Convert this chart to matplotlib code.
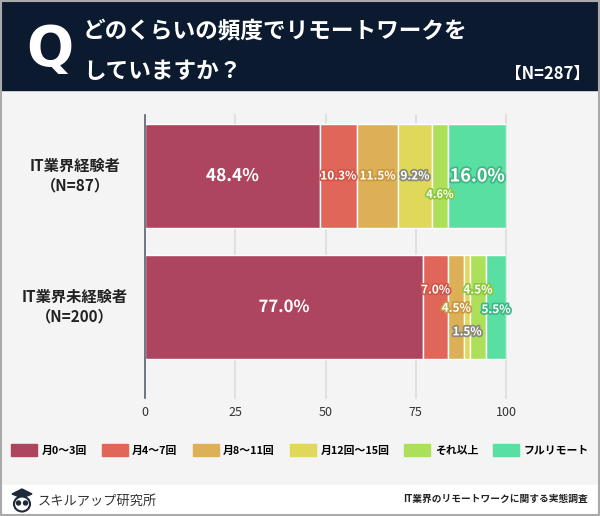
import matplotlib.pyplot as plt
import matplotlib.patheffects as pe
from matplotlib.patches import Rectangle, Polygon, Ellipse

plt.rcParams['font.family'] = ['Noto Sans CJK JP', 'DejaVu Sans']

# data
groups = ['IT業界経験者\n（N=87）', 'IT業界未経験者\n（N=200）']
series = ['月0～3回', '月4～7回', '月8～11回', '月12回～15回', 'それ以上', 'フルリモート']
values = [
    [48.4, 10.3, 11.5, 9.2, 4.6, 16.0],
    [77.0, 7.0, 4.5, 1.5, 4.5, 5.5],
]
colors = ['#AD455E', '#E0665A', '#DDB058', '#DFD85A', '#ACDF5A', '#5ADFA3']
edge_cols = ['#AD455E', '#D0564A', '#C9983F', '#8A8A7A', '#8CC83E', '#3EB883']
xticks = [0, 25, 50, 75, 100]

# label tweaks (vertical offset in bar units, font size)
lab_dy = [[0, 0, 0, 0, 0.14, 0], [0, -0.13, 0.01, 0.19, -0.13, 0.02]]
lab_fs = [[12.5, 8.5, 8.5, 8.5, 8, 13], [12, 8.5, 8.5, 8.5, 8.5, 8.5]]

fig = plt.figure(figsize=(6, 5.16), dpi=100)
fig.patch.set_facecolor('#F4F4F4')

# header / footer bands
fig.add_artist(Rectangle((0, 1 - 90 / 516), 1, 90 / 516, transform=fig.transFigure,
                         color='#0B1A2E', zorder=0))
fig.add_artist(Rectangle((0, 0), 1, 31 / 516, transform=fig.transFigure,
                         color='white', zorder=0))
fig.add_artist(Rectangle((0.0015, 0.002), 0.997, 0.996, transform=fig.transFigure,
                         fill=False, edgecolor='#AAAAAA', lw=1.5, zorder=5))

fig.text(50 / 600, 1 - 50 / 516, 'Q', color='white', fontsize=40, fontweight='bold',
         ha='center', va='center', family='DejaVu Sans')
fig.text(83 / 600, 1 - 32 / 516, 'どのくらいの頻度でリモートワークを', color='white',
         fontsize=16.3, fontweight='bold', ha='left', va='center')
fig.text(83 / 600, 1 - 72 / 516, 'していますか？', color='white',
         fontsize=16.3, fontweight='bold', ha='left', va='center')
fig.text(590 / 600, 1 - 74 / 516, '【N=287】', color='white',
         fontsize=12, fontweight='bold', ha='right', va='center')

ax = fig.add_axes([145 / 600, 1 - 395 / 516, 361 / 600, 280 / 516])
ax.set_facecolor('#F4F4F4')

for gi, vals in enumerate(values):
    left = 0
    for si, v in enumerate(vals):
        ax.barh(gi, v, left=left, height=0.794, color=colors[si],
                edgecolor='white', linewidth=1, zorder=3)
        txt = ax.text(left + v / 2, gi + lab_dy[gi][si], f'{v:.1f}%', color='white',
                      fontsize=lab_fs[gi][si], fontweight='bold',
                      ha='center', va='center', zorder=4)
        txt.set_path_effects([pe.withStroke(linewidth=2.5, foreground=edge_cols[si])])
        left += v

ax.set_xlim(0, 100)
ax.set_ylim(1.672, -0.466)
ax.set_yticks([])
ax.set_xticks(xticks)
ax.tick_params(axis='x', length=0, pad=8, labelsize=9, labelcolor='#333333')
for t in xticks[1:]:
    ax.axvline(t, color='#DDDDDD', lw=1.2, zorder=1, clip_on=False, ymin=-0.012)
ax.axvline(0, color='#556070', lw=1.2, zorder=5, clip_on=False, ymin=-0.012)
for s in ax.spines.values():
    s.set_visible(False)

for gi, g in enumerate(groups):
    y_px = 176 + gi * 131
    fig.text(75 / 600, 1 - y_px / 516, g, ha='center', va='center', fontsize=11,
             fontweight='bold', color='#222222', linespacing=1.3)

# legend
handles = [Rectangle((0, 0), 1, 1, color=c) for c in colors]
fig.legend(handles, series, loc='center', bbox_to_anchor=(0.5, 1 - 450 / 516), ncol=6,
           frameon=False, prop={'size': 7.8, 'weight': 'bold'}, handlelength=2.4,
           handleheight=1.3, handletextpad=0.4, columnspacing=1.4)

# footer logo (simple owl shape) and texts
fig.add_artist(Polygon([(12 / 600, 1 - 494 / 516), (22 / 600, 1 - 489 / 516),
                        (32 / 600, 1 - 494 / 516), (22 / 600, 1 - 498 / 516)],
                       closed=True, transform=fig.transFigure, color='#1E2A38', zorder=6))
fig.add_artist(Ellipse((22 / 600, 1 - 504 / 516), 16 / 600, 15 / 516,
                       transform=fig.transFigure, facecolor='white', edgecolor='#1E2A38',
                       lw=1.5, zorder=6))
fig.add_artist(Ellipse((18.5 / 600, 1 - 503 / 516), 4 / 600, 4 / 516,
                       transform=fig.transFigure, color='#1E2A38', zorder=7))
fig.add_artist(Ellipse((25.5 / 600, 1 - 503 / 516), 4 / 600, 4 / 516,
                       transform=fig.transFigure, color='#1E2A38', zorder=7))
fig.text(38 / 600, 1 - 501 / 516, 'スキルアップ研究所', fontsize=9.5, va='center',
         color='#333333')
fig.text(588 / 600, 1 - 499 / 516, 'IT業界のリモートワークに関する実態調査', fontsize=7,
         fontweight='bold', ha='right', va='center', color='#222222')

fig.savefig('out.png', dpi=100, facecolor=fig.get_facecolor())
